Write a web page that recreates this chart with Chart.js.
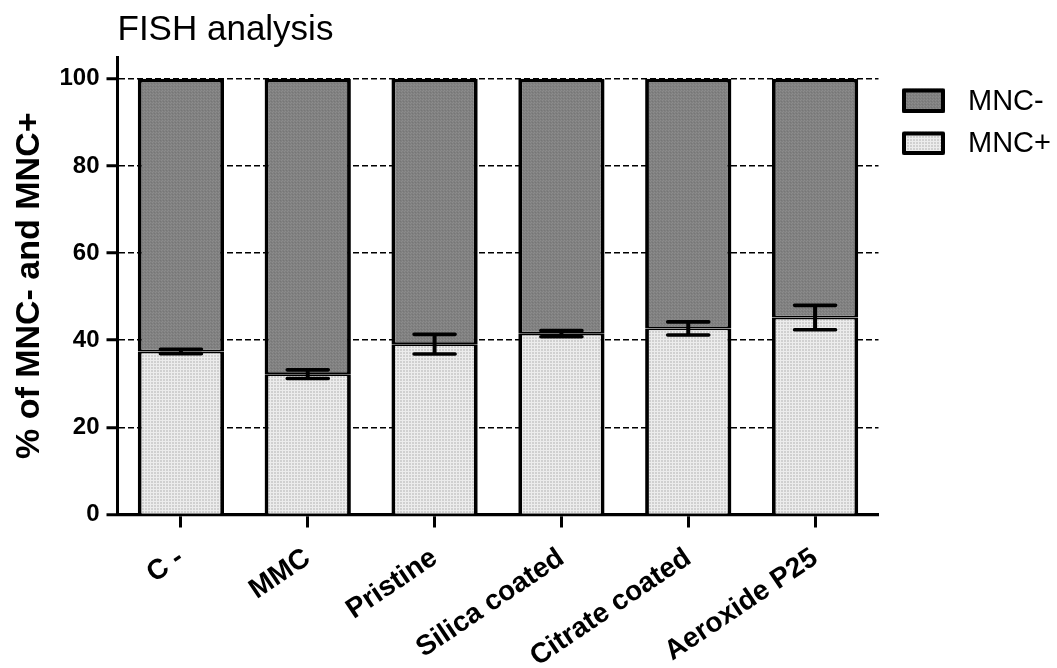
<!DOCTYPE html>
<html>
<head>
<meta charset="utf-8">
<title>FISH analysis</title>
<script src="https://cdn.jsdelivr.net/npm/chart.js@4"></script>
<style>
  html, body { margin: 0; padding: 0; background: #ffffff; }
  canvas { display: block; }
</style>
</head>
<body>
<canvas id="chart" width="1057" height="668"></canvas>
<script>
// Treatment groups along the x axis
const categories = ['C -', 'MMC', 'Pristine', 'Silica coated', 'Citrate coated', 'Aeroxide P25'];
// Percentage of micronucleated cells (MNC+) and their error (±)
const mncPlus = [37.4, 32.2, 39.1, 41.5, 42.7, 45.2];
const mncPlusErr = [0.5, 1.0, 2.25, 0.7, 1.5, 2.8];
// Percentage of cells without micronuclei (MNC-)
const mncMinus = [62.6, 67.8, 60.9, 58.5, 57.3, 54.8];
// Y axis tick values
const yTicks = [0, 20, 40, 60, 80, 100];

const FONT = "'Liberation Sans', Arial, sans-serif";

// Small repeating textures used as bar fills
function makePattern(kind) {
  const c = document.createElement('canvas');
  c.width = 3; c.height = 3;
  const g = c.getContext('2d');
  if (kind === 'dark') {
    g.fillStyle = '#808080'; g.fillRect(0, 0, 3, 3);
    g.fillStyle = '#8c8c8c'; g.fillRect(0, 0, 1, 1); g.fillRect(2, 1, 1, 1);
    g.fillStyle = '#767676'; g.fillRect(1, 2, 1, 1);
  } else {
    g.fillStyle = '#d0d0d0'; g.fillRect(0, 0, 3, 3);
    g.fillStyle = '#ececec'; g.fillRect(0, 0, 3, 1); g.fillRect(0, 0, 1, 3);
  }
  return document.createElement('canvas').getContext('2d').createPattern(c, 'repeat');
}
const darkFill = makePattern('dark');
const lightFill = makePattern('light');

// Error bars on the MNC+ segments
const errorBars = {
  id: 'errorBars',
  afterDatasetsDraw(chart) {
    const meta = chart.getDatasetMeta(0);
    const y = chart.scales.y;
    const ctx = chart.ctx;
    ctx.save();
    ctx.strokeStyle = '#000';
    meta.data.forEach((bar, i) => {
      const v = mncPlus[i], e = mncPlusErr[i];
      const yHi = y.getPixelForValue(v + e);
      const yLo = y.getPixelForValue(v - e);
      const x = bar.x;
      ctx.lineWidth = 4;
      ctx.lineCap = 'butt';
      ctx.beginPath();
      ctx.moveTo(x, yHi); ctx.lineTo(x, yLo);
      ctx.stroke();
      ctx.lineWidth = 3.6;
      ctx.lineCap = 'round';
      ctx.beginPath();
      ctx.moveTo(x - 20.5, yHi); ctx.lineTo(x + 20.5, yHi);
      ctx.moveTo(x - 20.5, yLo); ctx.lineTo(x + 20.5, yLo);
      ctx.stroke();
    });
    ctx.restore();
  }
};

// Legend drawn to the right of the plot
const sideLegend = {
  id: 'sideLegend',
  afterDraw(chart) {
    const ctx = chart.ctx;
    const items = [
      { label: 'MNC-', fill: darkFill, y: 88.5, h: 24.5 },
      { label: 'MNC+', fill: lightFill, y: 131.5, h: 23.5 }
    ];
    ctx.save();
    items.forEach(it => {
      ctx.fillStyle = it.fill;
      ctx.fillRect(902, it.y, 43, it.h);
      ctx.lineWidth = 4;
      ctx.strokeStyle = '#000';
      ctx.lineJoin = 'round';
      ctx.strokeRect(904, it.y + 2, 39, it.h - 4);
      ctx.fillStyle = '#000';
      ctx.font = '29px ' + FONT;
      ctx.textBaseline = 'middle';
      ctx.textAlign = 'left';
      ctx.fillText(it.label, 968, it.y + it.h / 2 + 1);
    });
    ctx.restore();
  }
};

new Chart(document.getElementById('chart'), {
  type: 'bar',
  data: {
    labels: categories,
    datasets: [
      {
        label: 'MNC+',
        data: mncPlus,
        backgroundColor: lightFill,
        borderColor: '#000',
        borderWidth: { top: 1.9, left: 3.8, right: 3.8, bottom: 0 },
        borderSkipped: false,
        inflateAmount: 0,
        barPercentage: 0.68,
        categoryPercentage: 1
      },
      {
        label: 'MNC-',
        data: mncMinus,
        backgroundColor: darkFill,
        borderColor: '#000',
        borderWidth: { top: 3.8, left: 3.8, right: 3.8, bottom: 1.9 },
        borderSkipped: false,
        inflateAmount: 0,
        barPercentage: 0.68,
        categoryPercentage: 1
      }
    ]
  },
  options: {
    responsive: false,
    animation: false,
    devicePixelRatio: 1,
    layout: { padding: { top: 0, left: 0, right: 178.5, bottom: 0 } },
    plugins: {
      legend: { display: false },
      tooltip: { enabled: false },
      title: {
        display: true,
        text: 'FISH analysis',
        align: 'start',
        fullSize: false,
        color: '#000',
        font: { family: FONT, size: 35, weight: 'normal' },
        padding: { top: 9, bottom: 6 }
      }
    },
    scales: {
      x: {
        stacked: true,
        afterFit(scale) { scale.height = 153.5; },
        border: { display: true, color: '#000', width: 3.3 },
        grid: {
          display: true,
          offset: false,
          drawOnChartArea: false,
          drawTicks: true,
          tickLength: 13,
          tickWidth: 3,
          tickColor: '#000'
        },
        ticks: {
          color: '#000',
          autoSkip: false,
          minRotation: 34,
          maxRotation: 34,
          padding: 14,
          font: { family: FONT, size: 28, weight: 'bold' }
        }
      },
      y: {
        stacked: true,
        min: 0,
        max: 105,
        afterFit(scale) { scale.width = 117.5; },
        afterBuildTicks(scale) { scale.ticks = yTicks.map(v => ({ value: v })); },
        border: { display: true, color: '#000', width: 3, dash: [6, 3] },
        grid: {
          display: true,
          color: '#000',
          lineWidth: 1.5,
          drawTicks: true,
          tickLength: 11,
          tickWidth: 3,
          tickColor: '#000',
          tickBorderDash: []
        },
        ticks: {
          color: '#000',
          padding: 7,
          font: { family: FONT, size: 24, weight: 'bold' }
        },
        title: {
          display: true,
          text: '% of MNC- and MNC+',
          color: '#000',
          font: { family: FONT, size: 34, weight: 'bold' },
          padding: { top: 9, bottom: 0 }
        }
      }
    }
  },
  plugins: [errorBars, sideLegend]
});
</script>
</body>
</html>
